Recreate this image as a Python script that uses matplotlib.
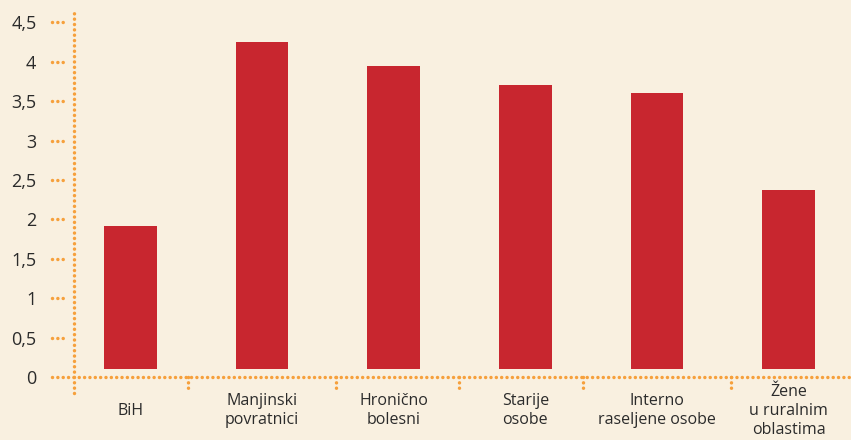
import matplotlib.pyplot as plt

categories = ["BiH", "Manjinski\npovratnici", "Hronično\nbolesni", "Starije\nosobe",
              "Interno\nraseljene osobe", "Žene\nu ruralnim\noblastima"]
values = [1.92, 4.25, 3.95, 3.70, 3.60, 2.37]
yticks = [0, 0.5, 1, 1.5, 2, 2.5, 3, 3.5, 4, 4.5]
ytick_labels = ["0", "0,5", "1", "1,5", "2", "2,5", "3", "3,5", "4", "4,5"]
separators = [0.437, 1.561, 2.496, 3.438, 4.563]

bg = '#F9F0E0'
red = '#C8262F'
orange = '#F6A03C'
txt = '#2B2B2B'
plt.rcParams['font.family'] = ['Open Sans', 'DejaVu Sans']

fig = plt.figure(figsize=(8.51, 4.40), dpi=100, facecolor=bg)
ax = fig.add_axes([74 / 851, 63 / 440, 777 / 851, 364 / 440])
ax.set_facecolor(bg)

base = 0.1
x = list(range(len(categories)))
ax.bar(x, [v - base for v in values], bottom=base, width=0.40, color=red)

ax.set_xlim(-0.429, 5.475)
ax.set_ylim(0, 4.62)
for s in ax.spines.values():
    s.set_visible(False)

dot = dict(color=orange, linewidth=2.5, linestyle=(0, (0.01, 1.53)),
           dash_capstyle='round', clip_on=False)

# axes
ax.plot([-0.595, 5.475], [0, 0], **dot)
ax.plot([-0.429, -0.429], [-0.2, 4.62], **dot)
for s in separators:
    ax.plot([s, s], [0, -0.2], **dot)

# y ticks (short dotted marks left of the axis)
ytr = ax.get_yaxis_transform()
for t in yticks[1:]:
    ax.plot([-0.0279, -0.0140], [t, t], transform=ytr, **dot)

ax.set_yticks(yticks)
ax.set_yticklabels(ytick_labels, fontsize=13, color=txt)
ax.tick_params(axis='y', length=0, pad=27)
ax.set_xticks([])

for i, lab in zip(x, categories):
    ax.text(i, -0.43, lab, ha='center', va='center', fontsize=11.5,
            color=txt, linespacing=1.25)

fig.savefig('out.png', dpi=100, facecolor=bg)
